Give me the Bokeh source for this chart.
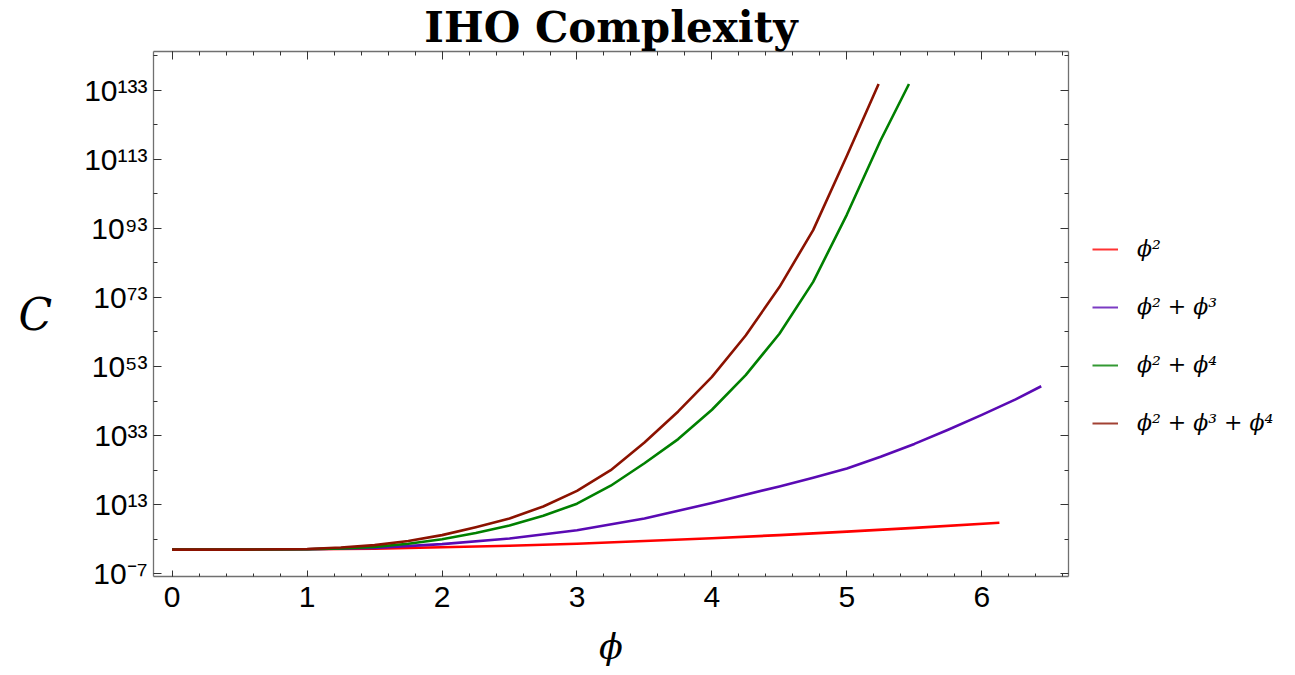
import numpy as np
from bokeh.plotting import figure
from bokeh.layouts import row
from bokeh.models import (FixedTicker, CustomJSTickFormatter, LogAxis, LinearAxis,
                          Legend, LegendItem)
from bokeh.embed import file_html
from bokeh.resources import INLINE

# ---------------- data (exponents = log10 C) ----------------
phi_red = [0.0, 0.5, 1.0, 1.5, 2.0, 2.5, 3.0, 3.5, 4.0, 4.5, 5.0, 5.5, 6.13]
exp_red = [0.0, 0.0, 0.1, 0.3, 0.7, 1.1, 1.7, 2.5, 3.3, 4.2, 5.2, 6.3, 7.8]

phi_purple = [0.0, 0.5, 1.0, 1.5, 2.0, 2.5, 3.0, 3.5, 4.0, 4.5, 4.75, 5.0, 5.25, 5.5, 5.75, 6.0, 6.25, 6.44]
exp_purple = [0.0, 0.0, 0.1, 0.5, 1.6, 3.2, 5.6, 9.0, 13.5, 18.3, 20.8, 23.5, 26.9, 30.6, 34.7, 39.0, 43.5, 47.3]

phi_green = [0.0, 0.5, 1.0, 1.25, 1.5, 1.75, 2.0, 2.25, 2.5, 2.75, 3.0, 3.25, 3.5, 3.75,
             4.0, 4.25, 4.5, 4.75, 5.0, 5.25, 5.46]
exp_green = [0.0, 0.0, 0.1, 0.35, 0.8, 1.7, 3.0, 4.8, 7.0, 9.8, 13.3, 18.5, 25.0, 32.0,
             40.5, 50.5, 62.5, 77.5, 97.0, 118.5, 134.8]

phi_dred = [0.0, 0.5, 1.0, 1.25, 1.5, 1.75, 2.0, 2.25, 2.5, 2.75, 3.0, 3.25, 3.5, 3.75,
            4.0, 4.25, 4.5, 4.75, 5.0, 5.235]
exp_dred = [0.0, 0.0, 0.2, 0.6, 1.3, 2.5, 4.2, 6.5, 9.0, 12.5, 17.0, 23.0, 31.0, 40.0,
            50.0, 62.0, 76.0, 92.5, 114.0, 134.8]

series_labels = ["ϕ²", "ϕ² + ϕ³", "ϕ² + ϕ⁴", "ϕ² + ϕ³ + ϕ⁴"]
series_colors = ["#FF0000", "#5A0AB4", "#008000", "#8B1200"]

x_ticks = [0, 1, 2, 3, 4, 5, 6]
y_tick_exps = [-7, 13, 33, 53, 73, 93, 113, 133]
y_tick_labels = ["10⁻⁷", "10¹³", "10³³", "10⁵³", "10⁷³", "10⁹³", "10¹¹³", "10¹³³"]
y_minor_exps = [-17, 3, 23, 43, 63, 83, 103, 123, 143]

title_text = "IHO Complexity"
x_label = "ϕ"
y_label = "C"

H = 675

# ---------------- main figure ----------------
p = figure(width=1070, height=H, y_axis_type="log",
           x_range=(-0.138, 6.642), y_range=(10 ** -7.78, 10 ** 144.2),
           min_border_left=153, min_border_right=2, min_border_top=49, min_border_bottom=99,
           output_backend="svg", toolbar_location=None)
p.grid.visible = False
p.outline_line_color = None
p.background_fill_color = "white"

p.title.text = title_text
p.title.align = "center"
p.title.text_font = "DejaVu Serif"
p.title.text_font_style = "bold"
p.title.text_font_size = "42px"
p.title.text_color = "black"
p.title.standoff = 0

xs_all = [phi_red, phi_purple, phi_green, phi_dred]
es_all = [exp_red, exp_purple, exp_green, exp_dred]
for xs, es, c in zip(xs_all, es_all, series_colors):
    ys = [10.0 ** e for e in es]
    p.line(xs, ys, line_color=c, line_width=2.6, line_join="round")

x_minor = [round(v, 2) for v in np.arange(-0.2, 6.8, 0.2)]
xticker = FixedTicker(ticks=x_ticks, minor_ticks=x_minor)
yticker = FixedTicker(ticks=[10.0 ** e for e in y_tick_exps],
                      minor_ticks=[10.0 ** e for e in y_minor_exps])

yfmt = CustomJSTickFormatter(args=dict(exps=y_tick_exps, labels=y_tick_labels), code="""
const e = Math.round(Math.log10(tick));
const i = exps.indexOf(e);
return i >= 0 ? labels[i] : "";
""")
blank = CustomJSTickFormatter(code="return '';")

axis_color = "#707070"
tick_color = "#333333"

def style_axis(ax, labelled, major_in, minor_in):
    ax.axis_line_color = axis_color
    ax.axis_line_width = 1.3
    ax.major_tick_line_color = tick_color
    ax.minor_tick_line_color = tick_color
    ax.major_tick_in = major_in
    ax.major_tick_out = 0
    ax.minor_tick_in = minor_in
    ax.minor_tick_out = 0
    ax.major_label_text_font = "Liberation Sans"
    ax.major_label_text_color = "black"
    if labelled:
        ax.major_label_text_font_size = "30px"
    else:
        ax.major_label_text_font_size = "0px"
        ax.major_label_standoff = 0

xa = p.xaxis[0]
xa.ticker = xticker
style_axis(xa, True, 6, 3)
xa.major_label_standoff = 10
xa.axis_label = x_label
xa.axis_label_text_font = "DejaVu Serif"
xa.axis_label_text_font_style = "italic"
xa.axis_label_text_font_size = "35px"
xa.axis_label_text_color = "black"
xa.axis_label_standoff = 17

ya = p.yaxis[0]
ya.ticker = yticker
ya.formatter = yfmt
style_axis(ya, True, 8, 4)
ya.major_label_standoff = 6
ya.axis_label = y_label
ya.axis_label_text_font = "DejaVu Serif"
ya.axis_label_text_font_style = "italic"
ya.axis_label_text_font_size = "44px"
ya.axis_label_text_color = "black"
ya.axis_label_standoff = 29
if "axis_label_orientation" in type(ya).properties():
    ya.axis_label_orientation = "horizontal"

top = LinearAxis(ticker=xticker, formatter=blank)
style_axis(top, False, 8, 4)
p.add_layout(top, "above")

right = LogAxis(ticker=yticker, formatter=blank)
style_axis(right, False, 8, 4)
p.add_layout(right, "right")

# ---------------- legend panel (separate small figure to the right) ----------------
# its frame is aligned with the main frame (top 49, bottom 576) by the row layout
q = figure(width=222, height=H, x_range=(0, 1), y_range=(0, 1),
           x_axis_location=None, y_axis_location=None, min_border=0,
           output_backend="svg", toolbar_location=None)
q.grid.visible = False
q.outline_line_color = None
leg_renderers = [q.line(x=[0.5], y=[np.nan], line_color=c, line_width=2.0, line_alpha=0.8)
                 for c in series_colors]
items = [LegendItem(label=lab, renderers=[r]) for lab, r in zip(series_labels, leg_renderers)]
legend = Legend(items=items, location=(22, 141), border_line_color=None,
                background_fill_alpha=0, padding=0, margin=0, spacing=33,
                glyph_width=26, glyph_height=24, label_height=24, label_standoff=19,
                label_text_font="DejaVu Serif", label_text_font_style="italic",
                label_text_font_size="22px", label_text_color="black")
q.add_layout(legend)

layout = row(p, q)
open("out.html", "w").write(file_html(layout, INLINE))
